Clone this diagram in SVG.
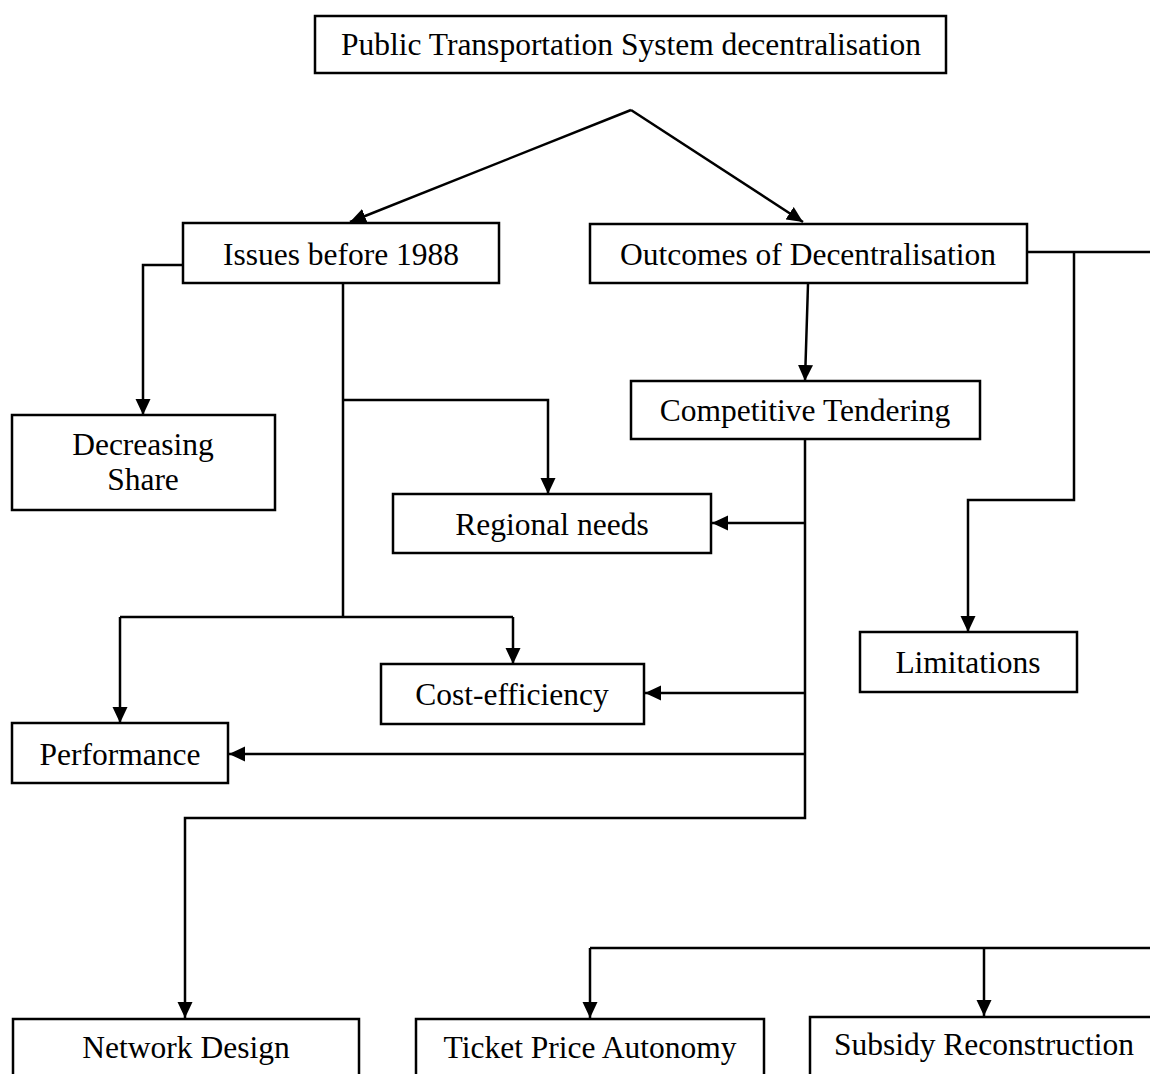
<svg xmlns="http://www.w3.org/2000/svg" width="1150" height="1074" viewBox="0 0 1150 1074">
<style>
.box{fill:#fff;stroke:#000;stroke-width:2.5}
.t{font-family:"Liberation Serif","Times New Roman",serif;font-size:31.5px;fill:#000;text-anchor:middle}
.c{fill:none;stroke:#000;stroke-width:2.5}
.a{marker-end:url(#ah)}
</style>
<defs>
<marker id="ah" markerUnits="userSpaceOnUse" markerWidth="16" markerHeight="16" viewBox="0 0 16 16" refX="16" refY="8" orient="auto">
<path d="M0,0.5 L16,8 L0,15.5 Z" fill="#000"/>
</marker>
</defs>
<rect width="1150" height="1074" fill="#fff"/>
<g id="connectors">
<path class="c a" d="M631,110 L350,222"/>
<path class="c a" d="M631,110 L803,222"/>
<path class="c a" d="M183,265 H143 V415"/>
<path class="c" d="M343,283 V617"/>
<path class="c a" d="M343,400 H548 V494"/>
<path class="c" d="M120,617 H513"/>
<path class="c a" d="M120,617 V723"/>
<path class="c a" d="M513,617 V664"/>
<path class="c a" d="M808,284 L805,381"/>
<path class="c" d="M1027,252 H1150"/>
<path class="c a" d="M1074,252 V500 H968 V632"/>
<path class="c a" d="M805,439 V818 H185 V1018"/>
<path class="c a" d="M805,523 H712"/>
<path class="c a" d="M805,693 H645"/>
<path class="c a" d="M805,754 H229"/>
<path class="c" d="M590,948 H1150"/>
<path class="c a" d="M590,948 V1018"/>
<path class="c a" d="M984,948 V1016"/>
</g>
<g id="title"><rect class="box" x="315" y="16" width="631" height="57"/><text class="t" x="631" y="55">Public Transportation System decentralisation</text></g>
<g id="issues"><rect class="box" x="183" y="223" width="316" height="60"/><text class="t" x="341" y="265">Issues before 1988</text></g>
<g id="outcomes"><rect class="box" x="590" y="224" width="437" height="59"/><text class="t" x="808" y="265">Outcomes of Decentralisation</text></g>
<g id="competitive"><rect class="box" x="631" y="381" width="349" height="58"/><text class="t" x="805" y="421">Competitive Tendering</text></g>
<g id="decreasing"><rect class="box" x="12" y="415" width="263" height="95"/><text class="t" x="143" y="455">Decreasing</text><text class="t" x="143" y="490">Share</text></g>
<g id="regional"><rect class="box" x="393" y="494" width="318" height="59"/><text class="t" x="552" y="535">Regional needs</text></g>
<g id="cost"><rect class="box" x="381" y="664" width="263" height="60"/><text class="t" x="512" y="705">Cost-efficiency</text></g>
<g id="performance"><rect class="box" x="12" y="723" width="216" height="60"/><text class="t" x="120" y="765">Performance</text></g>
<g id="limitations"><rect class="box" x="860" y="632" width="217" height="60"/><text class="t" x="968" y="673">Limitations</text></g>
<g id="network"><rect class="box" x="13" y="1019" width="346" height="80"/><text class="t" x="186" y="1058">Network Design</text></g>
<g id="ticket"><rect class="box" x="416" y="1019" width="348" height="80"/><text class="t" x="590" y="1058">Ticket Price Autonomy</text></g>
<g id="subsidy"><rect class="box" x="810" y="1017" width="360" height="80"/><text class="t" x="984" y="1055">Subsidy Reconstruction</text></g>
</svg>
